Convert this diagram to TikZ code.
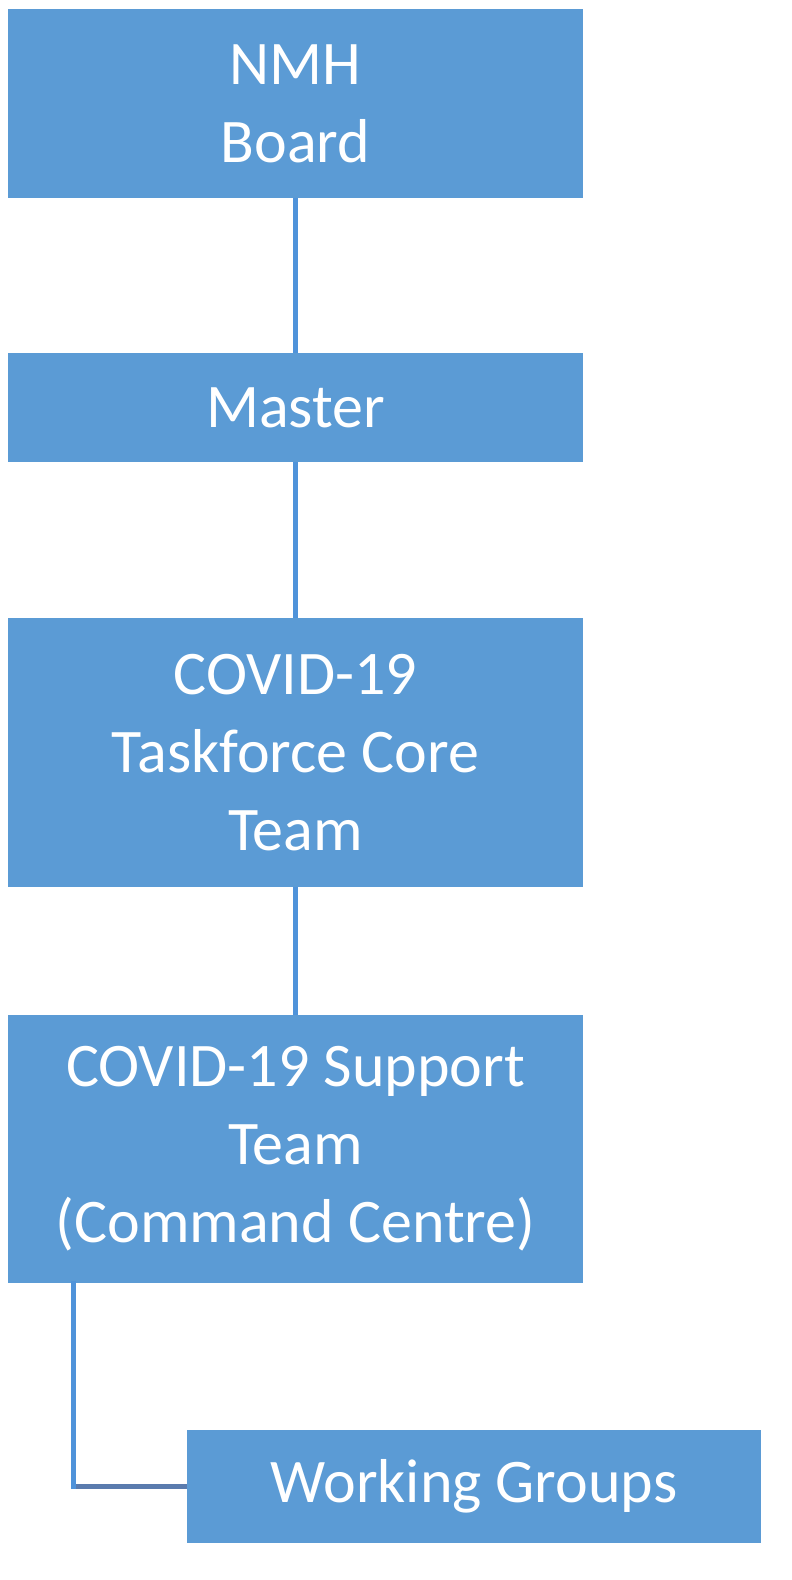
\documentclass[tikz,border=0pt]{standalone}
\usepackage{fontspec}
\setmainfont{Carlito}
\definecolor{boxblue}{HTML}{5B9BD5}
\definecolor{lineblue}{HTML}{4F93DA}
\definecolor{linegray}{HTML}{5A7BAE}
\begin{document}
\begin{tikzpicture}[x=1pt,y=1pt,
  orgbox/.style={fill=boxblue, draw=none, text=white, align=center, inner sep=0pt,
    font=\fontsize{62}{78}\selectfont},
  link/.style={draw=lineblue, line width=5pt}]
\useasboundingbox[fill=white] (0,0) rectangle (792,-1580);
\node[orgbox, minimum width=575, minimum height=189] (b) at (295.5,-103.5) {NMH\\Board};
\node[orgbox, minimum width=575, minimum height=109] (m) at (295.5,-407.5) {Master};
\node[orgbox, minimum width=575, minimum height=269] (t) at (295.5,-752.5) {COVID-19\\Taskforce Core\\Team};
\node[orgbox, minimum width=575, minimum height=268] (s) at (295.5,-1149) {COVID-19 Support\\Team\\(Command Centre)};
\node[orgbox, minimum width=574, minimum height=113] (w) at (474,-1486.5) {Working Groups};
\coordinate (e) at (73,-1485);
\draw[link] (b.south) -- (m.north);
\draw[link] (m.south) -- (t.north);
\draw[link] (t.south) -- (s.north);
\draw[link, draw=linegray] (e |- w.west) -- (w.west);
\draw[link, line cap=rect] (s.south -| e) -- (e |- w.west);
\end{tikzpicture}
\end{document}
